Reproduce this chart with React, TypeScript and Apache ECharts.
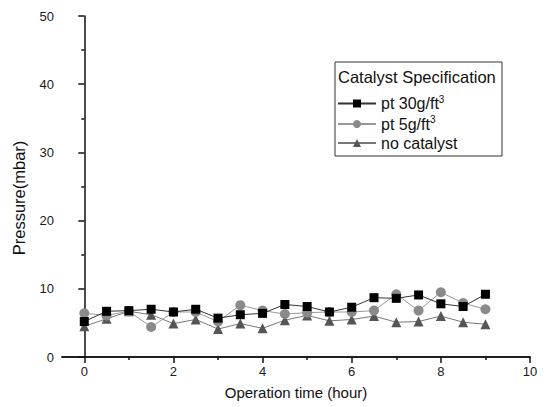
import React, { useEffect, useRef } from "react";
import * as echarts from "echarts";

const hours = [0, 0.5, 1, 1.5, 2, 2.5, 3, 3.5, 4, 4.5, 5, 5.5, 6, 6.5, 7, 7.5, 8, 8.5, 9];
const pt30 = [5.2, 6.7, 6.8, 7.0, 6.6, 7.0, 5.7, 6.2, 6.4, 7.7, 7.4, 6.6, 7.3, 8.7, 8.6, 9.1, 7.8, 7.4, 9.2];
const pt5 = [6.4, 6.1, 6.7, 4.4, 6.6, 6.6, 5.2, 7.6, 6.8, 6.3, 6.5, 6.6, 6.6, 6.8, 9.2, 6.8, 9.5, 7.9, 7.0];
const noCat = [4.5, 5.6, 6.7, 6.2, 4.9, 5.5, 4.1, 4.9, 4.2, 5.4, 6.1, 5.3, 5.5, 6.0, 5.1, 5.2, 6.0, 5.1, 4.8];
const xMajor = [0, 2, 4, 6, 8, 10];
const xMinor = [1, 3, 5, 7, 9];
const seriesNames = ["pt 30g/ft3", "pt 5g/ft3", "no catalyst"];

const FONT = "Liberation Sans, Arial, sans-serif";

export default function App() {
  const ref = useRef<HTMLDivElement>(null);
  useEffect(() => {
    if (!ref.current) return;
    const chart = echarts.init(ref.current, null, { renderer: "svg" });
    const pair = (ys: number[]) => hours.map((h, i) => [h, ys[i]]);
    const axisCommon = {
      type: "value" as const,
      min: -0.5,
      max: 10,
      position: "bottom" as const,
      axisLine: { show: true, lineStyle: { color: "#111", width: 1.5 } },
      splitLine: { show: false },
    };
    chart.setOption({
      animation: false,
      backgroundColor: "#fff",
      textStyle: { fontFamily: FONT },
      grid: { left: 62, right: 16, top: 16, bottom: 50 },
      xAxis: [
        {
          ...axisCommon,
          name: "Operation time (hour)",
          nameLocation: "middle",
          nameGap: 28,
          nameTextStyle: { fontSize: 15, color: "#111", fontFamily: FONT },
          axisTick: { show: true, length: 6, inside: false, customValues: xMajor, lineStyle: { color: "#111", width: 1.5 } },
          axisLabel: { show: true, customValues: xMajor, fontSize: 13, color: "#1a1a1a", margin: 8, fontFamily: FONT },
        },
        {
          ...axisCommon,
          axisTick: { show: true, length: 3, inside: false, customValues: xMinor, lineStyle: { color: "#111", width: 1.5 } },
          axisLabel: { show: false },
        },
      ],
      yAxis: {
        type: "value",
        min: 0,
        max: 50,
        interval: 10,
        axisLine: { show: true, lineStyle: { color: "#111", width: 1.5 } },
        axisTick: { show: true, length: 6, inside: false, lineStyle: { color: "#111", width: 1.5 } },
        minorTick: { show: true, splitNumber: 2, length: 3, lineStyle: { color: "#111", width: 1.5 } },
        splitLine: { show: false },
        axisLabel: { fontSize: 13, color: "#1a1a1a", margin: 8, fontFamily: FONT },
      },
      legend: {
        orient: "vertical",
        left: 337,
        top: 94,
        padding: 0,
        itemWidth: 38,
        itemHeight: 10,
        itemGap: 3,
        data: seriesNames,
        textStyle: {
          fontSize: 16,
          color: "#111",
          fontFamily: FONT,
          rich: {
            a: { fontSize: 16, color: "#111", fontFamily: FONT },
            sup: { fontSize: 10, color: "#111", fontFamily: FONT, verticalAlign: "top", padding: [0, 0, 9, 0] },
          },
        },
        formatter: (name: string) => {
          if (name.endsWith("ft3")) return `{a|${name.slice(0, -1)}}{sup|3}`;
          return `{a|${name}}`;
        },
      },
      graphic: [
        {
          type: "rect",
          shape: { x: 335, y: 62, width: 167, height: 94 },
          style: { fill: "none", stroke: "#333", lineWidth: 1 },
          z: 100,
        },
        {
          type: "text",
          x: 338,
          y: 68,
          style: { text: "Catalyst Specification", fontSize: 16.5, fill: "#111", fontFamily: FONT },
          z: 100,
        },
        {
          type: "text",
          x: 19,
          y: 198,
          rotation: Math.PI / 2,
          style: {
            text: "Pressure(mbar)",
            fontSize: 16.5,
            fill: "#111",
            fontFamily: FONT,
            align: "center",
            verticalAlign: "middle",
          },
          z: 100,
        },
      ],
      series: [
        {
          name: seriesNames[0],
          type: "line",
          data: pair(pt30),
          symbol: "rect",
          symbolSize: 9,
          itemStyle: { color: "#000" },
          lineStyle: { color: "#333", width: 1 },
          z: 5,
        },
        {
          name: seriesNames[1],
          type: "line",
          data: pair(pt5),
          symbol: "circle",
          symbolSize: 10,
          itemStyle: { color: "#8a8a8a" },
          lineStyle: { color: "#999", width: 1 },
          z: 4,
        },
        {
          name: seriesNames[2],
          type: "line",
          data: pair(noCat),
          symbol: "triangle",
          symbolSize: 10,
          itemStyle: { color: "#555" },
          lineStyle: { color: "#777", width: 1 },
          z: 3,
        },
      ],
    });
    return () => chart.dispose();
  }, []);
  return <div ref={ref} style={{ width: 546, height: 407, position: "fixed", left: 0, top: 0 }} />;
}
